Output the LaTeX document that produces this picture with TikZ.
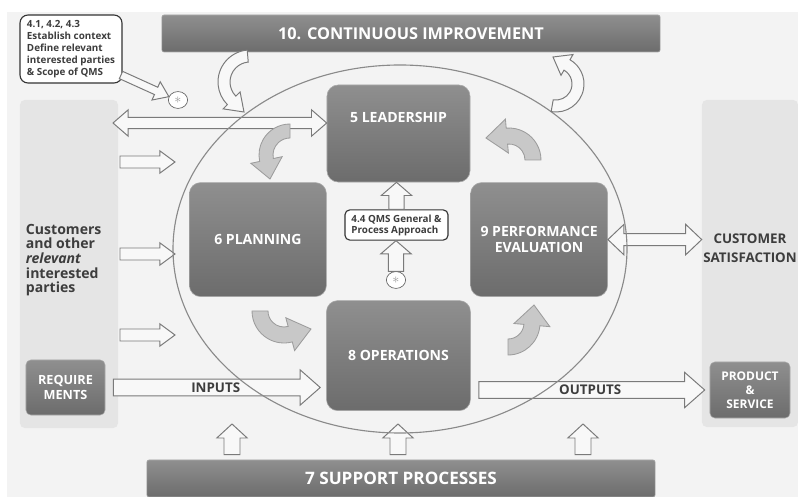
\documentclass[tikz,border=0pt]{standalone}
\usepackage{fontspec}
\setmainfont{Open Sans}
\usetikzlibrary{calc,positioning,shapes.geometric}

\definecolor{bggray}{HTML}{F3F3F3}
\definecolor{panelgray}{HTML}{E5E5E5}
\definecolor{stagetop}{HTML}{8F8F8F}
\definecolor{stagebot}{HTML}{6C6C6C}
\definecolor{stagerim}{HTML}{A9A9A9}
\definecolor{ink}{HTML}{3D3D3D}
\definecolor{edgegray}{HTML}{7A7A7A}
\definecolor{arrowfill}{HTML}{F8F8F8}
\definecolor{swirlfill}{HTML}{C8C8C8}
\definecolor{swirledge}{HTML}{9C9C9C}
\definecolor{ringgray}{HTML}{8A8A8A}

\tikzset{
    panel/.style ={rectangle, fill=panelgray, rounded corners=0.12cm},
    stage/.style ={rectangle, rounded corners=0.28cm, top color=stagetop, bottom color=stagebot,
                   draw=stagerim, text=white, align=center, font=\fontsize{10}{11}\selectfont\bfseries},
    stagetext/.style ={text=white, font=\fontsize{10}{11}\selectfont\bfseries},
    banner/.style ={rectangle, rounded corners=0.05cm, top color=stagetop, bottom color=stagebot,
                    draw=stagerim, text=white, font=\fontsize{11.6}{13}\selectfont\bfseries},
    note/.style ={rectangle, rounded corners=0.2cm, draw=black!80, fill=white, line width=0.8pt,
                  align=left, text=ink, font=\fontsize{7}{8.5}\selectfont\bfseries},
    asterisk/.style ={ellipse, draw=black!70, fill=white, inner sep=0pt,
                      minimum width=0.48cm, minimum height=0.42cm, text=black!40},
    tag/.style ={text=ink, font=\fontsize{10}{10.4}\selectfont\bfseries},
    flowtag/.style ={text=ink, font=\fontsize{9.5}{11}\selectfont\bfseries},
    hollow/.style ={draw=edgegray, fill=arrowfill, line width=0.7pt},
    swirl/.style ={draw=swirledge, fill=swirlfill, line width=0.6pt},
    ring/.style ={draw=ringgray, line width=0.8pt},
    % block arrow: half shaft / half head / head length
    blockarrow/.style args={#1/#2/#3}{to path={
        let \p1=(\tikztostart), \p2=(\tikztotarget), \p3=($(\p2)!#3!(\p1)$) in
        ($(\p1)!#1!90:(\p2)$) -- ($(\p3)!#1!90:(\p2)$) -- ($(\p3)!#2!90:(\p2)$) -- (\p2)
        -- ($(\p3)!#2!-90:(\p2)$) -- ($(\p3)!#1!-90:(\p2)$) -- ($(\p1)!#1!-90:(\p2)$) -- cycle}},
    twinarrow/.style args={#1/#2/#3}{to path={
        let \p1=(\tikztostart), \p2=(\tikztotarget), \p3=($(\p2)!#3!(\p1)$), \p4=($(\p1)!#3!(\p2)$) in
        (\p1) -- ($(\p4)!#2!90:(\p2)$) -- ($(\p4)!#1!90:(\p2)$) -- ($(\p3)!#1!90:(\p2)$)
        -- ($(\p3)!#2!90:(\p2)$) -- (\p2) -- ($(\p3)!#2!-90:(\p2)$) -- ($(\p3)!#1!-90:(\p2)$)
        -- ($(\p4)!#1!-90:(\p2)$) -- ($(\p4)!#2!-90:(\p2)$) -- cycle}}
}

% curved arrow: style, centre, radius, half width, start, end, half head, tip
\newcommand\bentarrow[8]{%
    \draw[#1] ($(#2)+(#5:#3+#4)$) arc[start angle=#5, end angle=#6, radius=#3+#4]
        -- ($(#2)+(#6:#3+#7)$) -- (#8) -- ($(#2)+(#6:#3-#7)$) -- ($(#2)+(#6:#3-#4)$)
        arc[start angle=#6, end angle=#5, radius=#3-#4] -- cycle;}

\begin{document}
\begin{tikzpicture}[x=0.025cm, y=-0.025cm]
    \useasboundingbox (0,0) rectangle (798,497);
    \fill[white] (0,0) rectangle (798,497);
    \fill[bggray] (7,12) rectangle (798,497);

    \node[panel, minimum width=2.45cm, minimum height=8.2cm] (cust) at (69,264) {};
    \node[panel, minimum width=2.4cm, minimum height=8.175cm] (sat) at (750,263.5) {};
    \node[tag, align=left, anchor=west] (custtxt) at (21,260)
        {Customers\\and other\\\textit{relevant}\\interested\\parties};
    \node[tag, align=center, font=\fontsize{9.5}{13.5}\selectfont\bfseries] (sattxt) at (750,248)
        {CUSTOMER\\SATISFACTION};

    \node[banner, minimum width=12.45cm, minimum height=0.925cm] (improve) at (411,33.5)
        {10. CONTINUOUS IMPROVEMENT};
    \node[banner, font=\fontsize{12.2}{14}\selectfont\bfseries,
          minimum width=12.7cm, minimum height=0.925cm] (support) at (401,478.5)
        {7 SUPPORT PROCESSES};

    \node[note, minimum width=2.55cm, minimum height=1.7cm] (ctx) at (71,49)
        {4.1, 4.2, 4.3\\Establish context\\Define relevant\\interested parties\\\& Scope of QMS};
    \node[asterisk] (star1) at (178,100) {$\ast$};

    \node[stage, minimum width=3.575cm, minimum height=2.425cm] (lead) at (398.5,133.5) {};
    \node[stagetext] (leadtxt) at ($(lead.north)+(0,33)$) {5 LEADERSHIP};
    \node[stage, minimum width=3.425cm, minimum height=2.85cm] (plan)
        [below left=0cm and 0cm of lead.south west] {6 PLANNING};
    \node[stage, minimum width=3.425cm, minimum height=2.85cm] (eval)
        [below right=0cm and 0cm of lead.south east] {9 PERFORMANCE\\EVALUATION};
    \node[stage, minimum width=3.6cm, minimum height=2.75cm] (ops)
        [below=2.95cm of lead.south] {8 OPERATIONS};

    \node[note, rounded corners=0.12cm, font=\fontsize{7}{7.8}\selectfont\bfseries,
          minimum width=2.575cm, minimum height=0.75cm] (qms) at (396.5,225)
        {4.4 QMS General \&\\Process Approach};
    \node[asterisk] (star2) at (396,280) {$\ast$};

    \node[stage, rounded corners=0.12cm, font=\fontsize{9}{10}\selectfont\bfseries,
          minimum width=1.975cm, minimum height=1.375cm] (req) at (65.5,387.5) {REQUIRE\\MENTS};
    \node[stage, rounded corners=0.12cm, font=\fontsize{8.5}{10}\selectfont\bfseries,
          minimum width=2cm, minimum height=1.4cm] (prod) at (750,390) {PRODUCT\\\&\\SERVICE};

    \coordinate (ctxout) at (121,75);
    \coordinate (custtop) at (113,123);
    \draw[hollow] (ctxout) to[blockarrow=0.1cm/0.25cm/0.35cm] (star1.160);
    \draw[hollow] (custtop) to[twinarrow=0.14cm/0.33cm/0.38cm] (lead.west |- custtop);
    \draw[hollow] (eval.east) to[twinarrow=0.15cm/0.38cm/0.4cm] (sat.west |- eval.east);

    \foreach \y [count=\i] in {162,254,335} {
        \coordinate (feed\i) at (120,\y);
        \coordinate (feedtip\i) at (175,\y);
        \draw[hollow] (feed\i) to[blockarrow=0.15cm/0.28cm/0.38cm] (feedtip\i);
    }
    \foreach \x [count=\i] in {232,398,583} {
        \coordinate (lift\i) at (\x,424);
        \draw[hollow] ($(support.north -| lift\i)+(0,-5)$) to[blockarrow=0.2cm/0.38cm/0.35cm] (lift\i);
    }

    \draw[hollow] (qms.north) to[blockarrow=0.19cm/0.38cm/0.33cm] (lead.south -| qms.north);
    \draw[hollow] (star2.north) to[blockarrow=0.19cm/0.38cm/0.33cm] (qms.south -| star2.north);

    \draw[hollow] ($(req.east)+(8,0)$) to[blockarrow=0.21cm/0.44cm/0.5cm] ($(ops.west |- req.east)+(-6,0)$);
    \draw[hollow] ($(ops.east |- prod.west)+(8,0)$) to[blockarrow=0.21cm/0.44cm/0.5cm] ($(prod.west)+(-5,0)$);
    \node[flowtag] (inputs) at ($(req.east)!0.5!(ops.west |- req.east)$) {INPUTS};
    \node[flowtag] (outputs) at ($(ops.east |- prod.west)!0.5!(prod.west)$) {OUTPUTS};

    \draw[ring] (400,249) ellipse[x radius=227, y radius=184];

    \bentarrow{hollow}{250,82}{26}{6}{-95}{-225}{12}{244,112}
    \bentarrow{hollow}{556,84}{22}{6}{100}{-60}{12}{553,57}
    \bentarrow{swirl}{290,155}{24}{7}{-90}{-192}{16}{270,179}
    \bentarrow{swirl}{509,160}{24}{8}{0}{-95}{17}{486,138}
    \bentarrow{swirl}{284,311}{24}{8}{180}{75}{17}{311,329}
    \bentarrow{swirl}{508,323}{24}{8}{90}{5}{18}{534,305}
\end{tikzpicture}
\end{document}
